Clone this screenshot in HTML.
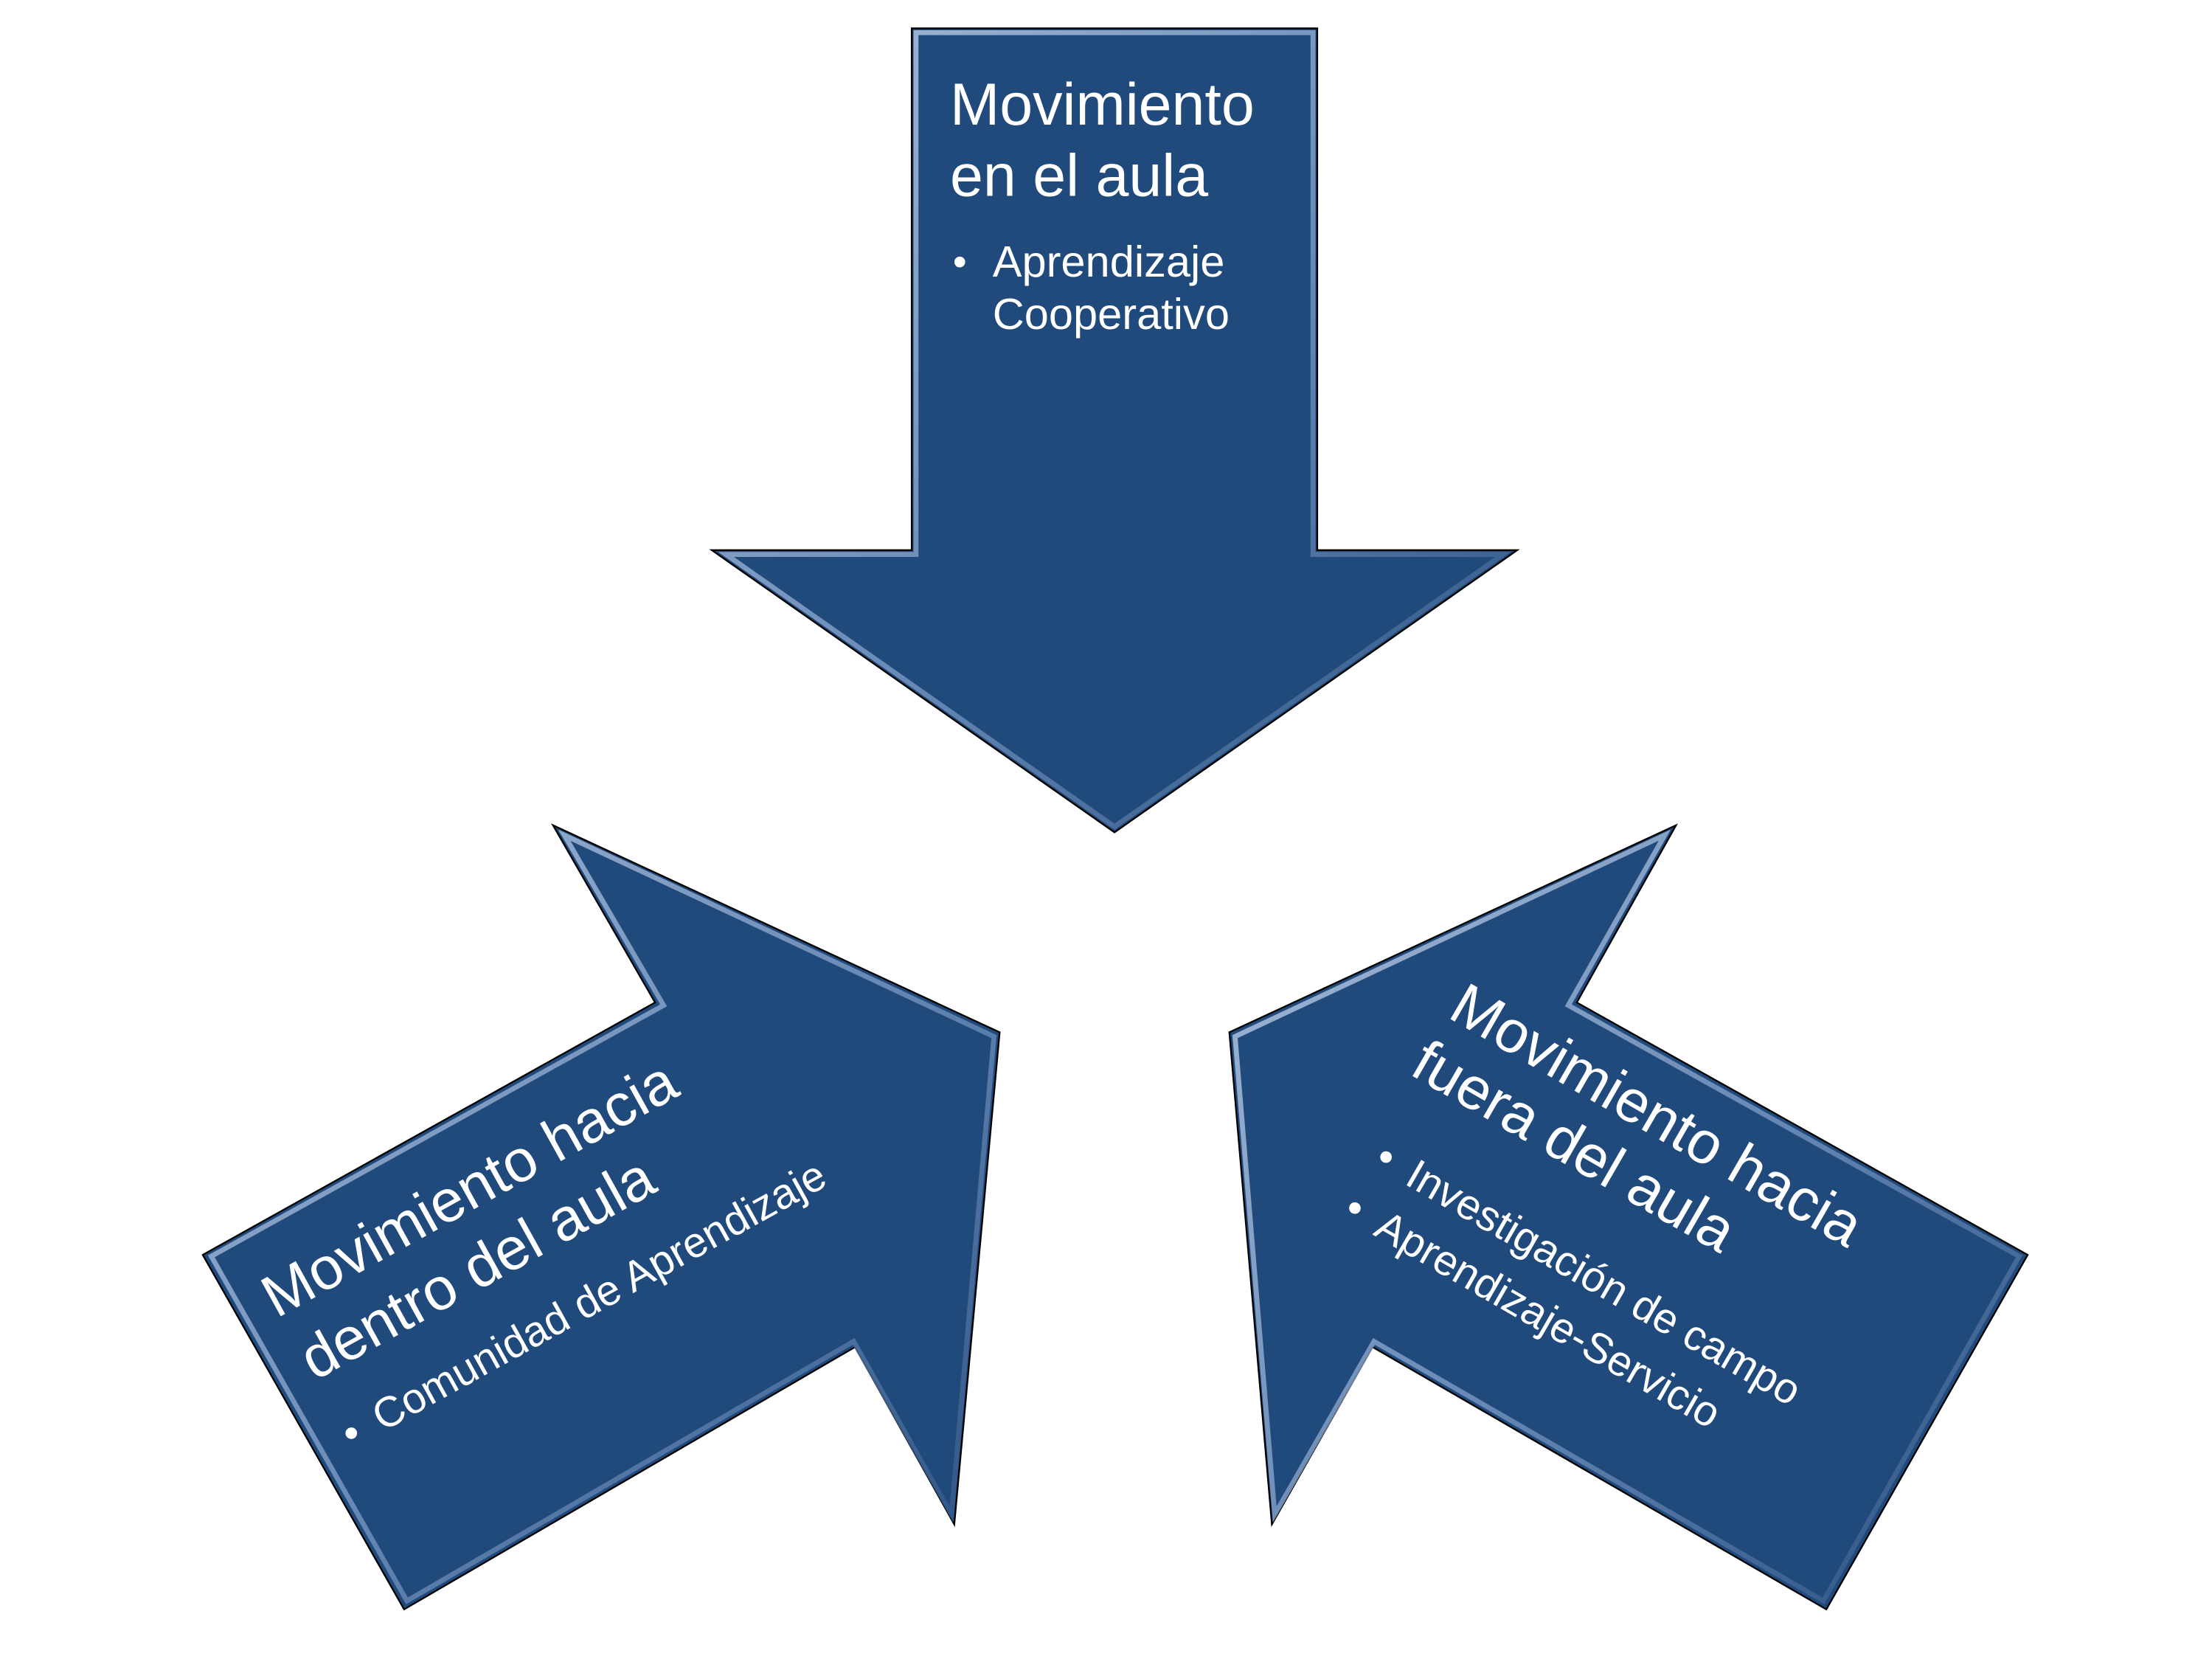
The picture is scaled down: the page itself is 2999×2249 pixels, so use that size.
<!DOCTYPE html>
<html><head><meta charset="utf-8"><style>
html,body{margin:0;padding:0;background:#fff;}
svg{display:block;}
text{font-family:"Liberation Sans",sans-serif;fill:#fff;}
</style></head><body>
<svg width="2999" height="2249" viewBox="0 0 1560 1170" preserveAspectRatio="none" xmlns="http://www.w3.org/2000/svg">
<defs>
<linearGradient id="bev" x1="0" y1="0" x2="1" y2="1">
<stop offset="0" stop-color="#c9d8ee"/><stop offset="0.5" stop-color="#7d9cc6"/><stop offset="1" stop-color="#2a4f80"/>
</linearGradient>
</defs>
<g fill="#214a7c" stroke="#000" stroke-width="1.2" stroke-linejoin="miter">
<polygon points="643,20 929,20 929,388 1070,388 786,587 502,388 643,388"/>
<polygon points="143,885 462,707 390,582 705,728 673,1075 603,950 285,1135"/>
<polygon points="1430,885 1112,707 1182,582 867,728 897,1075 968,950 1288,1135"/>
</g>
<g fill="none" stroke="url(#bev)" stroke-width="3.5" stroke-linejoin="miter" opacity="0.8">
<polygon points="646,23 926,23 926,391 1060,391 786,583 512,391 646,391"/>
<polygon points="149,886 468,709 398,589 701,731 671,1068 602,946 287,1129"/>
<polygon points="1424,886 1106,709 1174,589 871,731 899,1068 969,946 1286,1129"/>
</g>
<text x="670" y="88" font-size="42">Movimiento</text>
<text x="670" y="138" font-size="42">en el aula</text>
<text x="672" y="194" font-size="28">•</text>
<text x="700" y="195" font-size="31">Aprendizaje</text>
<text x="700" y="232" font-size="31">Cooperativo</text>

<g transform="translate(195,930) rotate(-29)"><text x="0" y="0" font-size="42">Movimiento hacia</text></g>
<g transform="translate(222,974) rotate(-29)"><text x="0" y="0" font-size="42">dentro del aula</text></g>
<g transform="translate(248,1022) rotate(-29)"><text x="0" y="0" font-size="30">•</text><text x="25" y="0" font-size="30">Comunidad de Aprendizaje</text></g>

<g transform="translate(1020,717) rotate(30)"><text x="0" y="0" font-size="42">Movimiento hacia</text></g>
<g transform="translate(993,757) rotate(30)"><text x="0" y="0" font-size="42">fuera del aula</text></g>
<g transform="translate(968,822) rotate(30)"><text x="0" y="0" font-size="30">•</text><text x="25" y="0" font-size="30">Investigación de campo</text></g>
<g transform="translate(946,858) rotate(30)"><text x="0" y="0" font-size="30">•</text><text x="25" y="0" font-size="30">Aprendizaje-Servicio</text></g>
</svg>
</body></html>
